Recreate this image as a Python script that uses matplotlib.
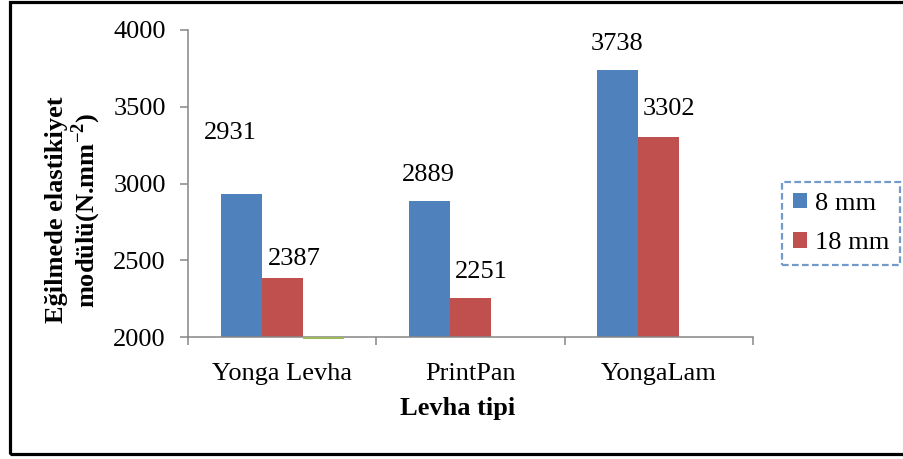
import matplotlib
matplotlib.use("Agg")
import matplotlib.pyplot as plt
from matplotlib.patches import Rectangle
import numpy as np

categories = ["Yonga Levha", "PrintPan", "YongaLam"]
series_names = ["8 mm", "18 mm"]
values_8mm = [2931, 2889, 3738]
values_18mm = [2387, 2251, 3302]
values_extra = [1990, np.nan, np.nan]  # stray third series visible only under first group
y_ticks = [2000, 2500, 3000, 3500, 4000]

# label offsets in pixels (dx, dy) from the top centre of each bar
offs_8mm = [(-11, 61), (-1, 26), (-1, 26)]
offs_18mm = [(12, 19), (11, 26), (10, 28)]

plt.rcParams['font.family'] = ['Liberation Serif', 'DejaVu Serif']
plt.rcParams['mathtext.fontset'] = 'custom'
plt.rcParams['mathtext.rm'] = 'Liberation Serif'
plt.rcParams['mathtext.bf'] = 'Liberation Serif:bold'

W, H = 904, 459
fig = plt.figure(figsize=(W / 100, H / 100), dpi=100)
ax = fig.add_axes([188 / W, 1 - 337 / H, (753 - 188) / W, (337 - 30) / H])

blue = '#4F81BD'
red = '#C0504D'
green = '#9BBB59'
gray = '#868686'
fs = 19

x = np.arange(len(categories))
bw = 0.218
b1 = ax.bar(x - bw, values_8mm, bw, color=blue, label=series_names[0], zorder=2)
b2 = ax.bar(x, values_18mm, bw, color=red, label=series_names[1], zorder=2)
ex = np.array(values_extra, dtype=float)
ax.bar(x + bw, ex - 2000, bw, bottom=2000, color=green, label='_nolegend_', zorder=3, clip_on=False)

ax.set_ylim(2000, 4000)
ax.set_xlim(-0.5, 2.5)
ax.set_yticks(y_ticks)
ax.set_yticklabels([str(v) for v in y_ticks], fontsize=fs)
ax.set_xticks(x)
ax.set_xticklabels(categories, fontsize=fs)
ax.set_xticks([-0.5, 0.5, 1.5, 2.5], minor=True)
ax.tick_params(axis='x', which='major', length=0, pad=19)
ax.tick_params(axis='x', which='minor', length=6, width=1.1, color=gray, direction='out')
ax.tick_params(axis='y', length=6, width=1.1, color=gray, direction='out', pad=10)

for s in ['top', 'right']:
    ax.spines[s].set_visible(False)
for s in ['left', 'bottom']:
    ax.spines[s].set_color(gray)
    ax.spines[s].set_linewidth(1.1)

for i, (v, (dx, dy)) in enumerate(zip(values_8mm, offs_8mm)):
    ax.annotate(str(v), (x[i] - bw, v), xytext=(dx, dy), textcoords='offset pixels',
                ha='center', va='center', fontsize=fs)
for i, (v, (dx, dy)) in enumerate(zip(values_18mm, offs_18mm)):
    ax.annotate(str(v), (x[i], v), xytext=(dx, dy), textcoords='offset pixels',
                ha='center', va='center', fontsize=fs)

fig.text(458 / W, 1 - 408 / H, 'Levha tipi', fontsize=fs, fontweight='bold', ha='center', va='center')
fig.text(74 / W, 1 - 210 / H, 'Eğilmede elastikiyet\nmodülü(N.mm$^{\\mathbf{-2}}$)', fontsize=fs,
         fontweight='bold', rotation=90, ha='center', va='center', multialignment='center', linespacing=1.05)

leg = fig.legend(handles=[b1, b2], loc='upper left', bbox_to_anchor=(782 / W, 1 - 182 / H),
                 borderaxespad=0, fontsize=fs, fancybox=False, handlelength=0.55, handleheight=0.55,
                 handletextpad=0.3, labelspacing=0.65, borderpad=0.4)
fr = leg.get_frame()
fr.set_edgecolor(blue)
fr.set_linestyle((0, (3, 1.5)))
fr.set_linewidth(1.6)

fig.patches.append(Rectangle((9.5 / W, 1 - 453.5 / H), (W + 10) / W, (453.5 - 1.5) / H,
                             transform=fig.transFigure, fill=False, edgecolor='black', linewidth=2.3))

fig.savefig('out.png', dpi=100)
